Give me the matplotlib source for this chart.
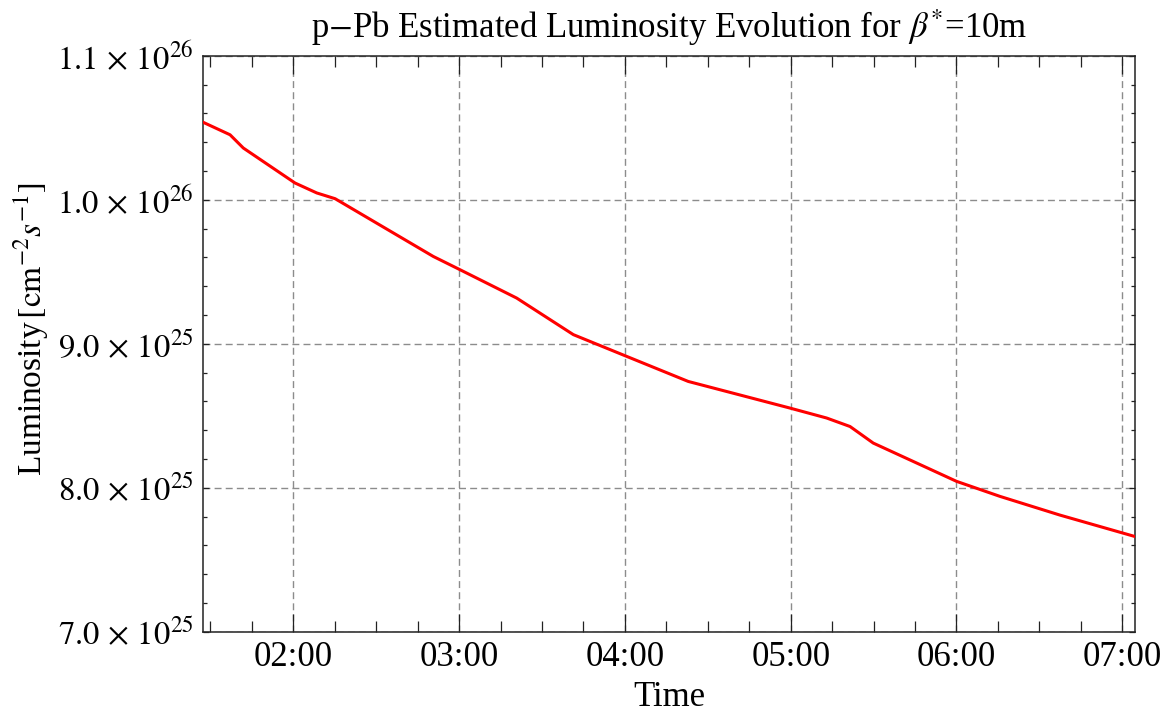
import matplotlib
matplotlib.use("Agg")
import matplotlib.pyplot as plt
from matplotlib.ticker import MultipleLocator, FuncFormatter

plt.rcParams["font.family"] = ["Liberation Serif", "DejaVu Serif"]
plt.rcParams["mathtext.fontset"] = "stix"

# time since start of day in hours, luminosity in cm^-2 s^-1
hours = [1.457, 1.618, 1.698, 2.010, 2.141, 2.252, 2.844, 3.005, 3.347, 3.689,
         4.000, 4.382, 4.996, 5.217, 5.358, 5.498, 6.001, 6.262, 6.624, 7.077]
lumi = [10.537, 10.451, 10.359, 10.116, 10.047, 10.007, 9.606, 9.514, 9.317, 9.063,
        8.917, 8.738, 8.553, 8.484, 8.425, 8.310, 8.044, 7.940, 7.810, 7.661]
lumi = [v * 1e25 for v in lumi]

fig = plt.figure(figsize=(11.64, 7.16), dpi=100)
ax = fig.add_axes([0.1747, 0.1177, 0.9751 - 0.1747, 0.9222 - 0.1177])

ax.plot(hours, lumi, color="#ff0000", lw=2.2, zorder=3)

ax.set_xlim(1.457, 7.077)
ax.set_ylim(7e25, 1.1e26)

ax.xaxis.set_major_locator(MultipleLocator(1))
ax.xaxis.set_minor_locator(MultipleLocator(0.25))
ax.yaxis.set_major_locator(MultipleLocator(1e25))
ax.yaxis.set_minor_locator(MultipleLocator(2e24))


def fmt_time(h, pos):
    return f"{int(round(h)):02d}:00"


def fmt_sci(v, pos):
    exp = 26 if v >= 9.99e25 else 25
    return r"$%.1f\,\times\,10^{%d}$" % (v / 10**exp, exp)


ax.xaxis.set_major_formatter(FuncFormatter(fmt_time))
ax.yaxis.set_major_formatter(FuncFormatter(fmt_sci))

ax.grid(True, which="major", color="#8c8c8c", lw=1.0, ls=(0, (5, 3)), zorder=1)

ax.tick_params(axis="both", which="both", direction="in", top=True, right=True,
               color="#222222", width=0.9)
ax.tick_params(axis="x", which="major", length=13, pad=7, labelsize=25)
ax.tick_params(axis="x", which="minor", length=8)
ax.tick_params(axis="y", which="major", length=4.5, pad=7, labelsize=23.5)
ax.tick_params(axis="y", which="minor", length=3)

for s in ax.spines.values():
    s.set_color("#222222")
    s.set_linewidth(1.1)

ax.set_title(r"p$-$Pb Estimated Luminosity Evolution for $\beta^{*}$=10m",
             fontsize=25, pad=13)
ax.set_xlabel("Time", fontsize=25, labelpad=5)
ax.set_ylabel(r"Luminosity$\,[\mathrm{cm}^{-2}s^{-1}]$", fontsize=24)
ax.yaxis.set_label_coords(-0.163, 0.525)

fig.savefig("out.png", dpi=100)
